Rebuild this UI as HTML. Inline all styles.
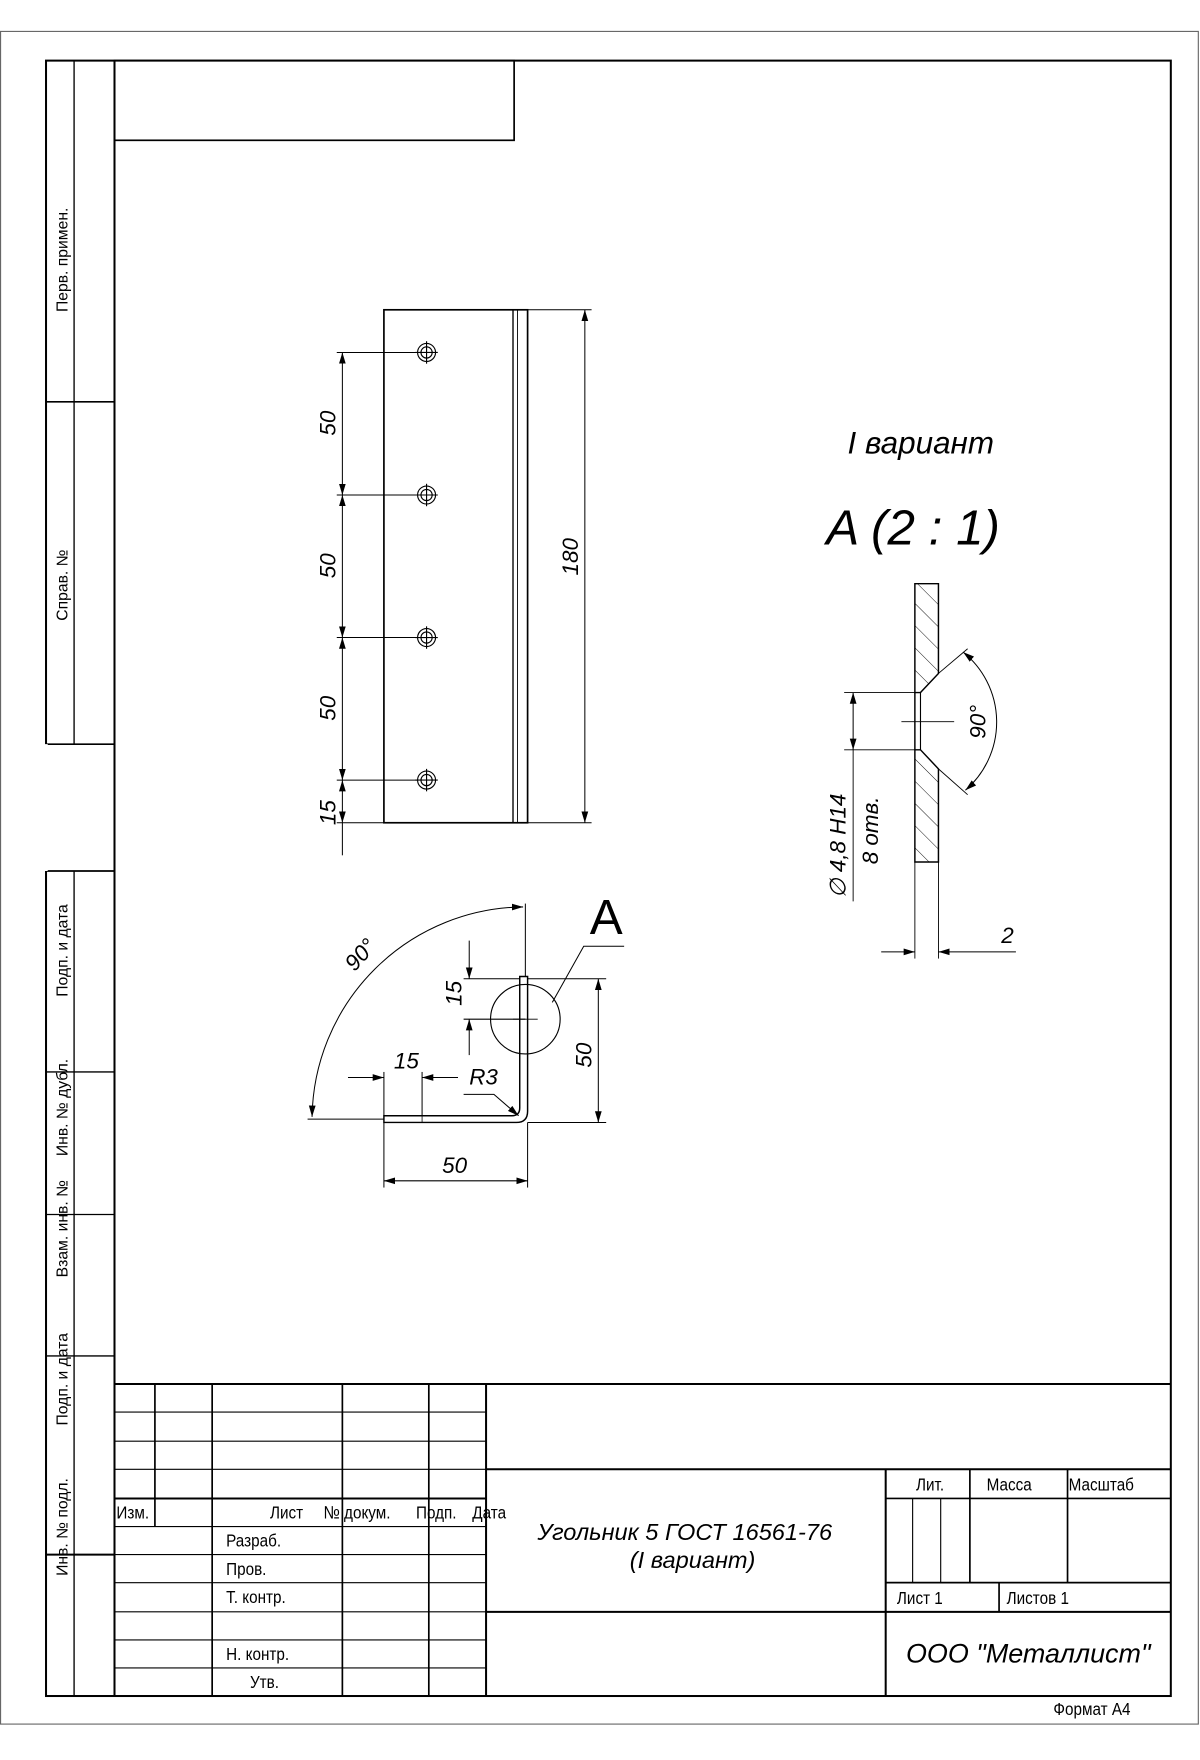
<!DOCTYPE html>
<html><head><meta charset="utf-8"><style>
html,body{margin:0;padding:0;background:#fff}
svg{display:block}
text{font-family:"Liberation Sans",sans-serif;fill:#000}
.i{font-style:italic}
</style></head><body>
<svg width="1200" height="1760" viewBox="0 0 1069 1568" preserveAspectRatio="none" xmlns="http://www.w3.org/2000/svg">
<defs>
<marker id="a" viewBox="0 0 10 10" refX="10" refY="5" markerWidth="10" markerHeight="10" orient="auto-start-reverse" markerUnits="userSpaceOnUse"><path d="M0,2 L10,5 L0,8 Z" fill="#000"/></marker>
<pattern id="h" width="14" height="14" patternUnits="userSpaceOnUse" patternTransform="rotate(-45)"><line x1="0" y1="0" x2="0" y2="14" stroke="#000" stroke-width="0.8"/></pattern>
</defs>
<rect x="0.5" y="28" width="1067" height="1508" fill="none" stroke="#666" stroke-width="1"/>
<g stroke="#000" fill="none">
<rect x="41" y="54" width="1002" height="1457" stroke-width="1.8"/>
<line x1="102" y1="54" x2="102" y2="1511" stroke-width="1.8"/>
<rect x="102" y="54" width="356" height="71" stroke-width="1.5"/>
<line x1="66" y1="54" x2="66" y2="663" stroke-width="1.2"/>
<line x1="41" y1="358" x2="102" y2="358" stroke-width="1.5"/>
<line x1="41" y1="663" x2="102" y2="663" stroke-width="1.5"/>
<line x1="41" y1="776" x2="102" y2="776" stroke-width="1.5"/>
<line x1="66" y1="776" x2="66" y2="1511" stroke-width="1.2"/>
<line x1="41" y1="955" x2="102" y2="955" stroke-width="1.2"/>
<line x1="41" y1="1082" x2="102" y2="1082" stroke-width="1.2"/>
<line x1="41" y1="1208" x2="102" y2="1208" stroke-width="1.2"/>
<line x1="41" y1="1385" x2="102" y2="1385" stroke-width="1.8"/>
<line x1="41" y1="663" x2="41" y2="776" stroke="#fff" stroke-width="3"/>
<line x1="102" y1="1233" x2="1043" y2="1233" stroke-width="1.8"/>
<line x1="433" y1="1309" x2="1043" y2="1309" stroke-width="1.8"/>
<line x1="433" y1="1436" x2="1043" y2="1436" stroke-width="1.8"/>
<line x1="433" y1="1233" x2="433" y2="1511" stroke-width="1.8"/>
<line x1="138" y1="1233" x2="138" y2="1360" stroke-width="1.5"/>
<line x1="189" y1="1233" x2="189" y2="1511" stroke-width="1.5"/>
<line x1="305" y1="1233" x2="305" y2="1511" stroke-width="1.5"/>
<line x1="382" y1="1233" x2="382" y2="1511" stroke-width="1.5"/>
<g stroke-width="1">
<line x1="102" y1="1258" x2="433" y2="1258"/><line x1="102" y1="1284" x2="433" y2="1284"/>
<line x1="102" y1="1309" x2="433" y2="1309"/><line x1="102" y1="1360" x2="433" y2="1360"/>
<line x1="102" y1="1385" x2="433" y2="1385"/><line x1="102" y1="1410" x2="433" y2="1410"/>
<line x1="102" y1="1436" x2="433" y2="1436"/><line x1="102" y1="1461" x2="433" y2="1461"/>
<line x1="102" y1="1486" x2="433" y2="1486"/>
<line x1="813" y1="1335" x2="813" y2="1410"/><line x1="838" y1="1335" x2="838" y2="1410"/>
</g>
<line x1="102" y1="1335" x2="433" y2="1335" stroke-width="1.8"/>
<line x1="789" y1="1309" x2="789" y2="1511" stroke-width="1.8"/>
<line x1="789" y1="1335" x2="1043" y2="1335" stroke-width="1.5"/>
<line x1="789" y1="1410" x2="1043" y2="1410" stroke-width="1.5"/>
<line x1="864" y1="1309" x2="864" y2="1410" stroke-width="1.5"/>
<line x1="951" y1="1309" x2="951" y2="1410" stroke-width="1.5"/>
<line x1="890" y1="1410" x2="890" y2="1436" stroke-width="1.5"/>
</g>
<g font-size="14">
<text transform="translate(60,278) rotate(-90)">Перв. примен.</text>
<text transform="translate(60,553) rotate(-90)">Справ. №</text>
<text transform="translate(60,888) rotate(-90)">Подп. и дата</text>
<text transform="translate(60,1030) rotate(-90)">Инв. № дубл.</text>
<text transform="translate(60,1138) rotate(-90)">Взам. инв. №</text>
<text transform="translate(60,1270) rotate(-90)">Подп. и дата</text>
<text transform="translate(60,1404) rotate(-90)">Инв. № подл.</text>
<g font-size="16" transform="scale(0.85,1)">
<text x="122" y="1353">Изм.</text>
<text x="283" y="1353">Лист</text>
<text x="339" y="1353">№ докум.</text>
<text x="436" y="1353">Подп.</text>
<text x="495" y="1353">Дата</text>
<text x="237" y="1378">Разраб.</text>
<text x="237" y="1403">Пров.</text>
<text x="237" y="1428">Т. контр.</text>
<text x="237" y="1479">Н. контр.</text>
<text x="262" y="1504">Утв.</text>
<text x="960" y="1328">Лит.</text>
<text x="1034" y="1328">Масса</text>
<text x="1120" y="1328">Масштаб</text>
<text x="940" y="1429">Лист 1</text>
<text x="1055" y="1429">Листов 1</text>
<text x="1104" y="1528">Формат А4</text>
</g>
</g>
<text class="i" x="610" y="1372" font-size="21" text-anchor="middle">Угольник 5 ГОСТ 16561-76</text>
<text class="i" x="617" y="1397" font-size="21" text-anchor="middle">(I вариант)</text>
<text class="i" x="916" y="1481" font-size="24" text-anchor="middle">ООО "Металлист"</text>

<g stroke="#000" fill="none">
<rect x="342" y="276" width="128" height="457" stroke-width="1.5"/>
<line x1="457" y1="276" x2="457" y2="733" stroke-width="1.2"/>
<line x1="461" y1="276" x2="461" y2="733" stroke-width="0.8"/>
<g stroke-width="1">
<circle cx="380" cy="314" r="8"/><circle cx="380" cy="314" r="5"/>
<circle cx="380" cy="441" r="8"/><circle cx="380" cy="441" r="5"/>
<circle cx="380" cy="568" r="8"/><circle cx="380" cy="568" r="5"/>
<circle cx="380" cy="695" r="8"/><circle cx="380" cy="695" r="5"/>
<line x1="370" y1="314" x2="390" y2="314"/><line x1="380" y1="304" x2="380" y2="324"/>
<line x1="370" y1="441" x2="390" y2="441"/><line x1="380" y1="431" x2="380" y2="451"/>
<line x1="370" y1="568" x2="390" y2="568"/><line x1="380" y1="558" x2="380" y2="578"/>
<line x1="370" y1="695" x2="390" y2="695"/><line x1="380" y1="685" x2="380" y2="705"/>
</g>
<g stroke-width="0.9">
<line x1="300" y1="314" x2="372" y2="314"/><line x1="300" y1="441" x2="372" y2="441"/>
<line x1="300" y1="568" x2="372" y2="568"/><line x1="300" y1="695" x2="372" y2="695"/>
<line x1="300" y1="733" x2="342" y2="733"/>
<line x1="305" y1="314" x2="305" y2="441" marker-start="url(#a)" marker-end="url(#a)"/>
<line x1="305" y1="441" x2="305" y2="568" marker-start="url(#a)" marker-end="url(#a)"/>
<line x1="305" y1="568" x2="305" y2="695" marker-start="url(#a)" marker-end="url(#a)"/>
<line x1="305" y1="695" x2="305" y2="733" marker-start="url(#a)" marker-end="url(#a)"/>
<line x1="305" y1="733" x2="305" y2="762"/>
<line x1="470" y1="276" x2="527" y2="276"/><line x1="470" y1="733" x2="527" y2="733"/>
<line x1="521" y1="276" x2="521" y2="733" marker-start="url(#a)" marker-end="url(#a)"/>
</g>
</g>
<g font-size="20">
<text class="i" transform="translate(299,377) rotate(-90)" text-anchor="middle">50</text>
<text class="i" transform="translate(299,504) rotate(-90)" text-anchor="middle">50</text>
<text class="i" transform="translate(299,631) rotate(-90)" text-anchor="middle">50</text>
<text class="i" transform="translate(299,724) rotate(-90)" text-anchor="middle">15</text>
<text class="i" transform="translate(515,496) rotate(-90)" text-anchor="middle">180</text>
</g>

<text class="i" x="755" y="404" font-size="28">I вариант</text>
<text class="i" x="736" y="485" font-size="44">A (2 : 1)</text>

<g stroke="#000" fill="none">
<path d="M815,520 H836 V600 L820,617 H815 Z" fill="url(#h)" stroke-width="1.3"/>
<path d="M815,668 H820 L836,685 V768 H815 Z" fill="url(#h)" stroke-width="1.3"/>
<line x1="815" y1="617" x2="815" y2="668" stroke-width="1.3"/>
<line x1="820" y1="617" x2="820" y2="668" stroke-width="1"/>
<line x1="803" y1="643" x2="850" y2="643" stroke-width="0.8"/>
<line x1="836" y1="600" x2="862" y2="578" stroke-width="0.8"/>
<line x1="836" y1="685" x2="862" y2="708" stroke-width="0.8"/>
<path d="M858,581 A80,80 0 0 1 860,704" stroke-width="0.9" marker-start="url(#a)" marker-end="url(#a)"/>
<line x1="752" y1="617" x2="815" y2="617" stroke-width="0.8"/>
<line x1="752" y1="668" x2="815" y2="668" stroke-width="0.8"/>
<line x1="760" y1="617" x2="760" y2="668" stroke-width="0.9" marker-start="url(#a)" marker-end="url(#a)"/>
<line x1="760" y1="668" x2="760" y2="803" stroke-width="0.8"/>
<line x1="815" y1="768" x2="815" y2="854" stroke-width="0.8"/>
<line x1="836" y1="768" x2="836" y2="854" stroke-width="0.8"/>
<line x1="785" y1="848" x2="815" y2="848" stroke-width="0.9" marker-end="url(#a)"/>
<line x1="905" y1="848" x2="836" y2="848" stroke-width="0.9" marker-end="url(#a)"/>
</g>
<text class="i" transform="translate(878,643) rotate(-90)" font-size="20" text-anchor="middle">90°</text>
<text class="i" transform="translate(753,800) rotate(-90)" font-size="20">∅ 4,8 H14</text>
<text class="i" transform="translate(782,770) rotate(-90)" font-size="20">8 отв.</text>
<text class="i" x="892" y="840" font-size="20">2</text>

<g stroke="#000" fill="none">
<path d="M342,994 H456 Q463,994 463,987 V870 H470 V990 Q470,1000 460,1000 H342 Z" stroke-width="1.3"/>
<line x1="376" y1="994" x2="376" y2="1000" stroke-width="0.7"/>
<circle cx="468" cy="908" r="31" stroke-width="1"/>
<line x1="457" y1="908" x2="479" y2="908" stroke-width="0.8"/>
<polyline points="492,893 520,843 556,843" stroke-width="0.9"/>
<g stroke-width="0.9">
<line x1="470" y1="872" x2="540" y2="872"/><line x1="470" y1="1000" x2="540" y2="1000"/>
<line x1="533" y1="872" x2="533" y2="1000" marker-start="url(#a)" marker-end="url(#a)"/>
<line x1="342" y1="1000" x2="342" y2="1058"/><line x1="470" y1="1000" x2="470" y2="1058"/>
<line x1="342" y1="1052" x2="470" y2="1052" marker-start="url(#a)" marker-end="url(#a)"/>
<line x1="413" y1="872" x2="463" y2="872"/><line x1="413" y1="908" x2="468" y2="908"/>
<line x1="418" y1="838" x2="418" y2="872" marker-end="url(#a)"/>
<line x1="418" y1="940" x2="418" y2="908" marker-end="url(#a)"/>
<line x1="342" y1="955" x2="342" y2="994"/><line x1="376" y1="955" x2="376" y2="994"/>
<line x1="310" y1="960" x2="342" y2="960" marker-end="url(#a)"/>
<line x1="408" y1="960" x2="376" y2="960" marker-end="url(#a)"/>
<polyline points="413,975 440,975 462,994" marker-end="url(#a)"/>
<line x1="468" y1="805" x2="468" y2="870"/>
<line x1="274" y1="997" x2="342" y2="997"/>
<path d="M466,808 A190,190 0 0 0 278,995" marker-start="url(#a)" marker-end="url(#a)"/>
</g>
</g>
<text x="540" y="832" font-size="44" text-anchor="middle">A</text>
<text class="i" transform="translate(411,885) rotate(-90)" font-size="20" text-anchor="middle">15</text>
<text class="i" transform="translate(527,940) rotate(-90)" font-size="20" text-anchor="middle">50</text>
<text class="i" x="405" y="1045" font-size="20" text-anchor="middle">50</text>
<text class="i" x="362" y="952" font-size="20" text-anchor="middle">15</text>
<text class="i" x="418" y="966" font-size="20">R3</text>
<text class="i" transform="translate(326,855) rotate(-48)" font-size="20" text-anchor="middle">90°</text>
</svg>
</body></html>
